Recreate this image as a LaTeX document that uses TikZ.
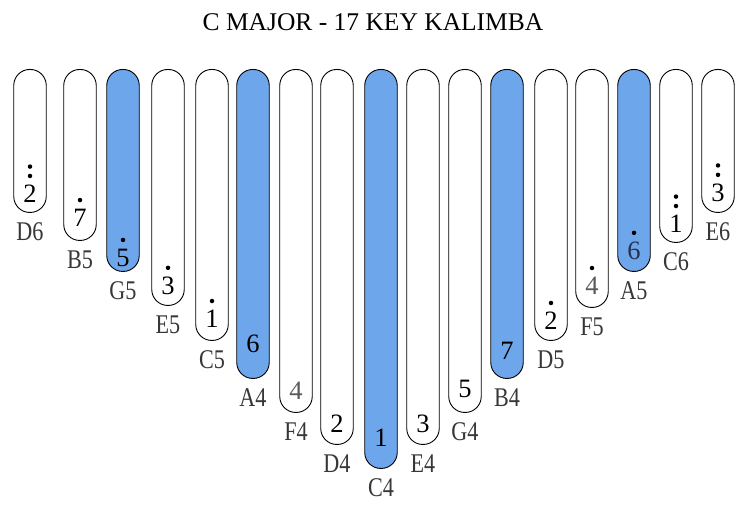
\documentclass[tikz,border=0pt]{standalone}
\usepackage{fontspec}
\setmainfont{Liberation Serif}
\newfontfamily\notefont[FakeStretch=0.82]{Liberation Serif}
\usetikzlibrary{positioning}
\definecolor{keyblue}{RGB}{110,166,235}
\definecolor{notegray}{RGB}{55,55,55}
\definecolor{softgray}{RGB}{90,90,90}
\definecolor{darkblue}{RGB}{40,50,80}
\tikzset{
  keybar/.style={draw=black, line width=0.9pt, rounded corners=16pt, minimum width=32.5pt, inner sep=0pt, anchor=north},
  digit/.style={font=\fontsize{26.5}{26.5}\selectfont, inner sep=0pt},
  note/.style={font=\notefont\fontsize{27}{27}\selectfont, text=notegray, inner sep=0pt},
  dot/.style={circle, fill=black, inner sep=0pt, minimum size=4.5pt},
  title/.style={font=\fontsize{25.5}{25.5}\selectfont, inner sep=0pt}
}
\begin{document}
\begin{tikzpicture}[x=1pt,y=-1pt]
  \useasboundingbox[fill=white] (0,0) rectangle (748,516);
  \node[title] (title) at (373,22) {C MAJOR - 17 KEY KALIMBA};
  % key / centre x / bottom y / note / number / lift / dots / fill / text
  \foreach \i/\kx/\ky/\nm/\dg/\dof/\nd/\kc/\tc in {
    1/30/212/D6/2/19/2/white/black,
    2/80/240/B5/7/23/1/white/black,
    3/123/271/G5/5/14/1/keyblue/black,
    4/168/305/E5/3/20/1/white/black,
    5/212/340/C5/1/22/1/white/black,
    6/253/378/A4/6/35/0/keyblue/black,
    7/296/412/F4/4/22/0/white/softgray,
    8/337/444/D4/2/21/0/white/black,
    9/381/468/C4/1/31/0/keyblue/black,
    10/423/444/E4/3/21/0/white/black,
    11/465/412/G4/5/24/0/white/black,
    12/507/378/B4/7/28/0/keyblue/black,
    13/551/340/D5/2/20/1/white/black,
    14/592/307/F5/4/22/1/white/softgray,
    15/634/271/A5/6/21/1/keyblue/darkblue,
    16/676/242/C6/1/19/2/white/black,
    17/718/212/E6/3/20/2/white/black}{
    \node[keybar, fill=\kc, minimum height={\ky-69}] (k\i) at (\kx,69) {};
    \path (k\i.south) ++(0,-\dof) node[digit, text=\tc] (d\i) {\dg};
    \node[note, below=10pt of k\i] (n\i) {\nm};
    \ifnum\nd>0 \node[dot, above=6.5pt of d\i] (p\i) {}; \fi
    \ifnum\nd>1 \node[dot, above=4.5pt of p\i] (q\i) {}; \fi
  }
\end{tikzpicture}
\end{document}
